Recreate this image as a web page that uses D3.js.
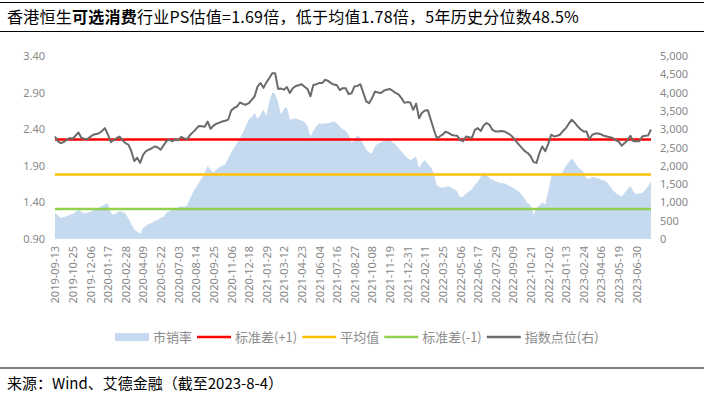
<!DOCTYPE html>
<html lang="zh">
<head>
<meta charset="UTF-8">
<title>香港恒生可选消费行业PS估值</title>
<script src="https://cdn.jsdelivr.net/npm/d3@7/dist/d3.min.js"></script>
<style>
    body { margin: 0; background: #fff; }
    svg { display: block; font-family: "Noto Sans CJK SC", "Noto Sans", sans-serif; }
    .tick-label { fill: #888; font-size: 11px; font-family: "Noto Sans", "Liberation Sans", sans-serif; }
    .legend-text { fill: #8c8c8c; font-size: 13px; }
</style>
</head>
<body>
<svg width="704" height="393"></svg>
<script>
    // 横轴刻度（每6周一个）
    var tickLabels = ['2019-09-13', '2019-10-25', '2019-12-06', '2020-01-17', '2020-02-28', '2020-04-09',
        '2020-05-22', '2020-07-03', '2020-08-14', '2020-09-25', '2020-11-06', '2020-12-18',
        '2021-01-29', '2021-03-12', '2021-04-23', '2021-06-04', '2021-07-16', '2021-08-27',
        '2021-10-08', '2021-11-19', '2021-12-31', '2022-02-11', '2022-03-25', '2022-05-06',
        '2022-06-17', '2022-07-29', '2022-09-09', '2022-10-21', '2022-12-02', '2023-01-13',
        '2023-02-24', '2023-04-06', '2023-05-19', '2023-06-30'];

    // 市销率（周度，2019-09-13 至 2023-08-04）
    var psValues = [
        1.26, 1.22, 1.19, 1.20, 1.21, 1.23, 1.24, 1.27, 1.30, 1.27,
        1.25, 1.26, 1.27, 1.29, 1.31, 1.33, 1.35, 1.37, 1.39, 1.26,
        1.23, 1.26, 1.28, 1.27, 1.25, 1.18, 1.10, 1.03, 1.00, 0.97,
        1.05, 1.08, 1.11, 1.12, 1.15, 1.16, 1.19, 1.20, 1.26, 1.28,
        1.31, 1.32, 1.33, 1.35, 1.34, 1.36, 1.45, 1.54, 1.60, 1.67,
        1.73, 1.81, 1.90, 1.84, 1.81, 1.85, 1.88, 1.90, 1.92, 2.00,
        2.08, 2.15, 2.21, 2.28, 2.35, 2.44, 2.53, 2.57, 2.62, 2.54,
        2.60, 2.67, 2.58, 2.78, 2.90, 2.88, 2.76, 2.60, 2.68, 2.70,
        2.53, 2.54, 2.55, 2.53, 2.52, 2.50, 2.44, 2.30, 2.38, 2.44,
        2.48, 2.47, 2.48, 2.48, 2.49, 2.51, 2.48, 2.44, 2.40, 2.38,
        2.32, 2.21, 2.26, 2.32, 2.28, 2.20, 2.12, 2.08, 2.07, 2.17,
        2.20, 2.22, 2.24, 2.25, 2.26, 2.22, 2.19, 2.14, 2.10, 2.05,
        2.01, 1.98, 2.00, 2.03, 1.87, 1.94, 1.98, 1.92, 1.88, 1.80,
        1.64, 1.61, 1.60, 1.61, 1.62, 1.60, 1.58, 1.55, 1.47, 1.48,
        1.52, 1.55, 1.58, 1.64, 1.68, 1.75, 1.81, 1.78, 1.73, 1.71,
        1.69, 1.68, 1.66, 1.66, 1.64, 1.62, 1.60, 1.57, 1.55, 1.50,
        1.45, 1.39, 1.36, 1.23, 1.32, 1.36, 1.40, 1.37, 1.55, 1.75,
        1.78, 1.77, 1.76, 1.82, 1.90, 1.95, 2.00, 1.95, 1.89, 1.85,
        1.82, 1.73, 1.72, 1.75, 1.74, 1.73, 1.71, 1.70, 1.68, 1.62,
        1.57, 1.53, 1.50, 1.48, 1.53, 1.58, 1.62, 1.55, 1.51, 1.52,
        1.53, 1.57, 1.62, 1.69
    ];

    // 指数点位（右轴）
    var indexValues = [
        2800, 2670, 2620, 2650, 2710, 2760, 2740, 2820, 2910, 2760,
        2740, 2730, 2790, 2850, 2870, 2890, 2950, 3030, 2860, 2650,
        2700, 2760, 2800, 2700, 2620, 2580, 2400, 2130, 2220, 2080,
        2300, 2400, 2440, 2480, 2530, 2500, 2440, 2560, 2680, 2710,
        2670, 2730, 2700, 2790, 2750, 2730, 2840, 2920, 3000, 3090,
        3080, 3070, 3210, 3010, 3100, 3150, 3180, 3210, 3230, 3260,
        3510, 3580, 3620, 3730, 3690, 3670, 3710, 3800, 3900, 4170,
        4260, 4130, 4280, 4400, 4530, 4530, 4100, 4110, 4080, 4150,
        3990, 4120, 4180, 4200, 4230, 4160, 4100, 3900, 4210, 4230,
        4260, 4260, 4350, 4320, 4260, 4220, 4200, 4070, 4120, 4120,
        3960, 3980, 4170, 4180, 4230, 4000, 3760, 3710, 3850, 4030,
        4000, 3990, 4050, 4080, 4100, 4050, 3990, 3950, 3850, 3720,
        3740, 3730, 3530, 3700, 3300, 3450, 3510, 3520, 3260, 3000,
        2760, 2800, 2850, 2930, 2900, 2850, 2830, 2820, 2700, 2670,
        2800, 2780, 2760, 2980, 3030, 2950, 3100, 3170, 3120, 2980,
        2940, 2940, 2950, 2940, 2900, 2850, 2780, 2670, 2580, 2490,
        2400, 2350, 2260, 2100, 2080, 2350, 2530, 2400, 2600, 2850,
        2800, 2820, 2850, 2950, 3030, 3150, 3260, 3180, 3080, 3000,
        2940, 2940, 2730, 2850, 2880, 2880, 2860, 2820, 2800, 2780,
        2760, 2700, 2660, 2550, 2620, 2700, 2820, 2670, 2670, 2670,
        2800, 2820, 2830, 2990
    ];

    var meanPS = 1.78,
        upperPS = 2.26,
        lowerPS = 1.31;

    var leftTicks = [0.9, 1.4, 1.9, 2.4, 2.9, 3.4],
        rightTicks = d3.range(0, 5001, 500);

    var svg = d3.select('svg'),
        n = psValues.length,
        plot = { left: 55, right: 651, top: 56, bottom: 239 };

    var xScale = d3.scaleLinear().domain([0, n - 1]).range([plot.left, plot.right]),
        yLeft = d3.scaleLinear().domain([0.9, 3.4]).range([plot.bottom, plot.top]),
        yRight = d3.scaleLinear().domain([0, 5000]).range([plot.bottom, plot.top]);

    // 顶部和标题分隔线
    svg.append('line').attr('x1', 0).attr('x2', 704).attr('y1', 2.5).attr('y2', 2.5)
        .attr('stroke', '#000').attr('stroke-width', 1.2);
    svg.append('line').attr('x1', 0).attr('x2', 704).attr('y1', 31.5).attr('y2', 31.5)
        .attr('stroke', '#000').attr('stroke-width', 1.2);
    svg.append('line').attr('x1', 0).attr('x2', 704).attr('y1', 368).attr('y2', 368)
        .attr('stroke', '#000').attr('stroke-width', 1.2);

    var title = svg.append('text').attr('x', 7).attr('y', 23)
        .style('font-size', '16px').style('letter-spacing', '0.25px').attr('fill', '#000');
    title.append('tspan').text('香港恒生');
    title.append('tspan').style('font-weight', 'bold').text('可选消费');
    title.append('tspan').text('行业PS估值=1.69倍，低于均值1.78倍，5年历史分位数48.5%');

    svg.append('text').attr('x', 7).attr('y', 389).style('font-size', '15px').attr('fill', '#000')
        .text('来源：Wind、艾德金融（截至2023-8-4）');

    // 面积：市销率
    var area = d3.area()
        .x(function(d, i) { return xScale(i); })
        .y0(yLeft(0.9))
        .y1(function(d) { return yLeft(d); });

    svg.append('path')
        .attr('d', area(psValues))
        .attr('fill', '#c5d9ef');

    // 标准差与均值线
    var refLines = [
        { v: upperPS, color: '#ff0000' },
        { v: meanPS, color: '#ffc000' },
        { v: lowerPS, color: '#92d050' }
    ];
    refLines.forEach(function(r) {
        svg.append('line')
            .attr('x1', xScale(0)).attr('x2', xScale(n - 1))
            .attr('y1', yLeft(r.v)).attr('y2', yLeft(r.v))
            .attr('stroke', r.color).attr('stroke-width', 2.5);
    });

    // 指数点位
    var line = d3.line()
        .x(function(d, i) { return xScale(i); })
        .y(function(d) { return yRight(d); });

    svg.append('path')
        .attr('d', line(indexValues))
        .attr('fill', 'none')
        .attr('stroke', '#6b6b6b')
        .attr('stroke-width', 2)
        .attr('stroke-linejoin', 'round');

    // 坐标轴
    var leftAxis = svg.append('g').attr('transform', 'translate(' + [47, 0] + ')')
        .call(d3.axisLeft(yLeft).tickValues(leftTicks).tickFormat(d3.format('.2f')).tickSize(0));
    var rightAxis = svg.append('g').attr('transform', 'translate(' + [658, 0] + ')')
        .call(d3.axisRight(yRight).tickValues(rightTicks).tickFormat(d3.format(',')).tickSize(0));
    var bottomAxis = svg.append('g').attr('transform', 'translate(' + [0, 244] + ')')
        .call(d3.axisBottom(xScale)
            .tickValues(d3.range(0, tickLabels.length).map(function(k) { return k * 6; }))
            .tickFormat(function(d) { return tickLabels[d / 6]; })
            .tickSize(0));

    [leftAxis, rightAxis, bottomAxis].forEach(function(g) {
        g.select('.domain').remove();
        g.selectAll('text').attr('class', 'tick-label').attr('fill', null);
    });
    leftAxis.selectAll('text').attr('x', -2);
    rightAxis.selectAll('text').attr('x', 2);
    bottomAxis.selectAll('text')
        .attr('transform', 'rotate(-90)')
        .attr('text-anchor', 'end')
        .attr('x', -2)
        .attr('y', 0)
        .attr('dy', '0.35em');

    // 图例
    var legendItems = [
        { name: '市销率', type: 'rect', color: '#c5d9ef' },
        { name: '标准差(+1)', type: 'line', color: '#ff0000' },
        { name: '平均值', type: 'line', color: '#ffc000' },
        { name: '标准差(-1)', type: 'line', color: '#92d050' },
        { name: '指数点位(右)', type: 'line', color: '#6b6b6b' }
    ];
    var lx = 115, ly = 337;
    legendItems.forEach(function(item) {
        if (item.type === 'rect') {
            svg.append('rect').attr('x', lx).attr('y', ly - 4).attr('width', 34).attr('height', 8)
                .attr('fill', item.color);
        } else {
            svg.append('line').attr('x1', lx).attr('x2', lx + 34).attr('y1', ly).attr('y2', ly)
                .attr('stroke', item.color).attr('stroke-width', 2.5);
        }
        var t = svg.append('text').attr('class', 'legend-text')
            .attr('x', lx + 38).attr('y', ly).attr('dy', '0.35em').text(item.name);
        lx += 38 + t.node().getComputedTextLength() + 5;
    });
</script>
</body>
</html>
